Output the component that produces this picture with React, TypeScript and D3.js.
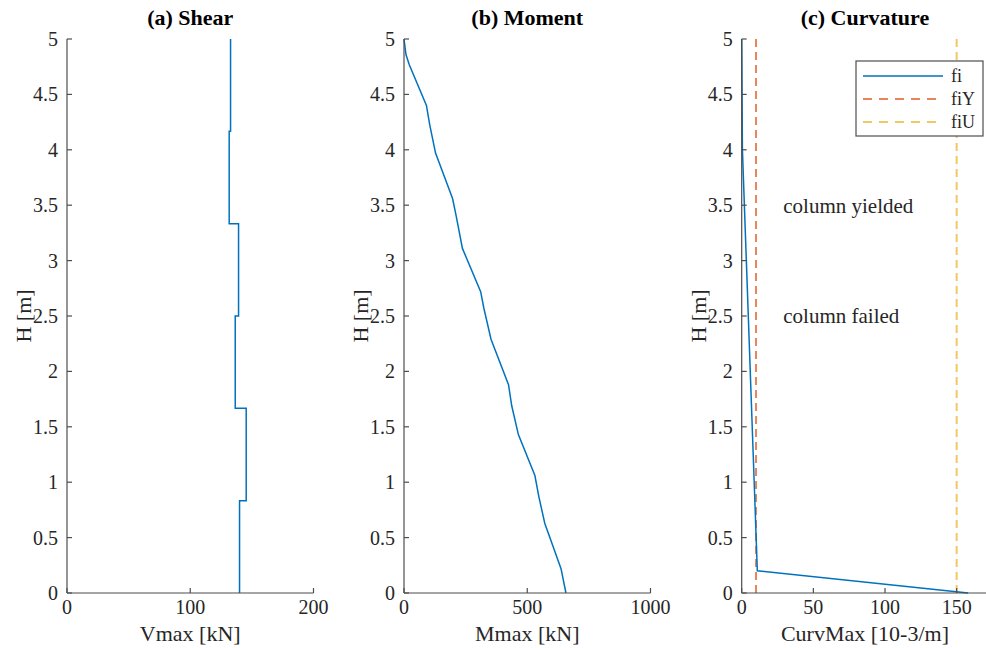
import React from "react";
import * as d3 from "d3";

// ---------- data ----------
const yTicks = [0, 0.5, 1, 1.5, 2, 2.5, 3, 3.5, 4, 4.5, 5];

// (a) Shear: element boundaries and constant shear per element
const shearH = [0, 0.833, 1.667, 2.5, 3.333, 4.167, 5];
const shearV = [140.0, 145.4, 136.5, 139.2, 131.6, 132.7];
const shearXTicks = [0, 100, 200];

// (b) Moment
const momentH = [5.0, 4.86, 4.77, 4.4, 4.23, 3.97, 3.56, 3.41, 3.11, 2.72, 2.57, 2.29, 1.88, 1.69, 1.43, 1.06, 0.87, 0.63, 0.22, 0];
const momentM = [0, 8, 21, 91, 104, 128, 197, 211, 237, 311, 324, 353, 424, 437, 464, 531, 547, 571, 637, 657];
const momentXTicks = [0, 500, 1000];

// (c) Curvature
const curvH = [5, 4.0, 0.2, 0];
const curvFi = [0, 0.5, 10.9, 158];
const fiY = 10;
const fiU = 150;
const curvXTicks = [0, 50, 100, 150];
const legendLabels = ["fi", "fiY", "fiU"];
const annotations = [
  { text: "column yielded", x: 29, h: 3.5 },
  { text: "column failed", x: 29, h: 2.5 },
];

// ---------- style ----------
const FONT = "'Liberation Serif', 'Times New Roman', serif";
const TXT = "#262626";
const AXIS = "#4d4d4d";
const BLUE = "#0072BD";
const ORANGE = "#D95319";
const YELLOW = "#EDB120";

const TOP = 39;
const BOTTOM = 593;
const W = 246.5;

type PanelProps = {
  left: number;
  xMax: number;
  xTicks: number[];
  title: string;
  xLabel: string;
  children: (x: d3.ScaleLinear<number, number>, y: d3.ScaleLinear<number, number>) => React.ReactNode;
};

function Panel({ left, xMax, xTicks, title, xLabel, children }: PanelProps) {
  const x = d3.scaleLinear().domain([0, xMax]).range([left, left + W]);
  const y = d3.scaleLinear().domain([0, 5]).range([BOTTOM, TOP]);
  const tl = 5;
  return (
    <g>
      {children(x, y)}
      <line x1={left} x2={left + W} y1={BOTTOM} y2={BOTTOM} stroke={AXIS} strokeWidth={1.2} />
      <line x1={left} x2={left} y1={TOP} y2={BOTTOM} stroke={AXIS} strokeWidth={1.2} />
      {yTicks.map((t) => (
        <g key={"y" + t}>
          <line x1={left} x2={left + tl} y1={y(t)} y2={y(t)} stroke={AXIS} strokeWidth={1.2} />
          <text x={left - 9} y={y(t)} dy="0.35em" textAnchor="end" fontSize={20} fill={TXT} fontFamily={FONT}>
            {String(t)}
          </text>
        </g>
      ))}
      {xTicks.map((t) => (
        <g key={"x" + t}>
          <line x1={x(t)} x2={x(t)} y1={BOTTOM} y2={BOTTOM - tl} stroke={AXIS} strokeWidth={1.2} />
          <text x={x(t)} y={BOTTOM + 21} textAnchor="middle" fontSize={20} fill={TXT} fontFamily={FONT}>
            {String(t)}
          </text>
        </g>
      ))}
      <text x={left + W / 2} y={641} textAnchor="middle" fontSize={22} fill={TXT} fontFamily={FONT}>
        {xLabel}
      </text>
      <text
        transform={`translate(${left - 36},${(TOP + BOTTOM) / 2}) rotate(-90)`}
        textAnchor="middle"
        fontSize={22}
        fill={TXT}
        fontFamily={FONT}
      >
        H [m]
      </text>
      <text x={left + W / 2} y={25} textAnchor="middle" fontSize={22} fontWeight="bold" fill="#000" fontFamily={FONT}>
        {title}
      </text>
    </g>
  );
}

export default function App() {
  const shearPts: [number, number][] = [];
  shearV.forEach((v, i) => {
    shearPts.push([v, shearH[i]]);
    shearPts.push([v, shearH[i + 1]]);
  });
  const momentPts: [number, number][] = momentM.map((m, i) => [m, momentH[i]]);
  const curvPts: [number, number][] = curvFi.map((f, i) => [f, curvH[i]]);

  return (
    <svg width={986} height={648} style={{ position: "absolute", left: 0, top: 0, background: "#fff" }}>
      <rect width={986} height={648} fill="#fff" />
      <Panel left={67} xMax={200} xTicks={shearXTicks} title="(a) Shear" xLabel="Vmax [kN]">
        {(x, y) => {
          const line = d3.line<[number, number]>().x((d) => x(d[0])).y((d) => y(d[1]));
          return <path d={line(shearPts) || ""} fill="none" stroke={BLUE} strokeWidth={1.5} />;
        }}
      </Panel>
      <Panel left={404} xMax={1000} xTicks={momentXTicks} title="(b) Moment" xLabel="Mmax [kN]">
        {(x, y) => {
          const line = d3.line<[number, number]>().x((d) => x(d[0])).y((d) => y(d[1]));
          return <path d={line(momentPts) || ""} fill="none" stroke={BLUE} strokeWidth={1.5} />;
        }}
      </Panel>
      <Panel left={741.7} xMax={172} xTicks={curvXTicks} title="(c) Curvature" xLabel="CurvMax [10-3/m]">
        {(x, y) => {
          const line = d3.line<[number, number]>().x((d) => x(d[0])).y((d) => y(d[1]));
          return (
            <g>
              <line x1={x(fiY)} x2={x(fiY)} y1={y(0)} y2={y(5)} stroke={ORANGE} strokeOpacity={0.7} strokeWidth={2} strokeDasharray="8,5" />
              <line x1={x(fiU)} x2={x(fiU)} y1={y(0)} y2={y(5)} stroke={YELLOW} strokeOpacity={0.7} strokeWidth={2} strokeDasharray="8,5" />
              <path d={line(curvPts) || ""} fill="none" stroke={BLUE} strokeWidth={1.5} />
              {annotations.map((a) => (
                <text key={a.text} x={x(a.x)} y={y(a.h)} dy="0.35em" fontSize={21} fill={TXT} fontFamily={FONT}>
                  {a.text}
                </text>
              ))}
              <g>
                <rect x={856} y={61} width={127} height={75} fill="#fff" stroke={AXIS} strokeWidth={1.2} />
                {legendLabels.map((lab, i) => {
                  const ly = 76 + i * 23;
                  const col = [BLUE, ORANGE, YELLOW][i];
                  return (
                    <g key={lab}>
                      <line
                        x1={863}
                        x2={943}
                        y1={ly}
                        y2={ly}
                        stroke={col}
                        strokeWidth={i === 0 ? 1.5 : 2}
                        strokeOpacity={i === 0 ? 1 : 0.7}
                        strokeDasharray={i === 0 ? undefined : "9,7"}
                      />
                      <text x={951} y={ly} dy="0.35em" fontSize={18} fill={TXT} fontFamily={FONT}>
                        {lab}
                      </text>
                    </g>
                  );
                })}
              </g>
            </g>
          );
        }}
      </Panel>
    </svg>
  );
}
